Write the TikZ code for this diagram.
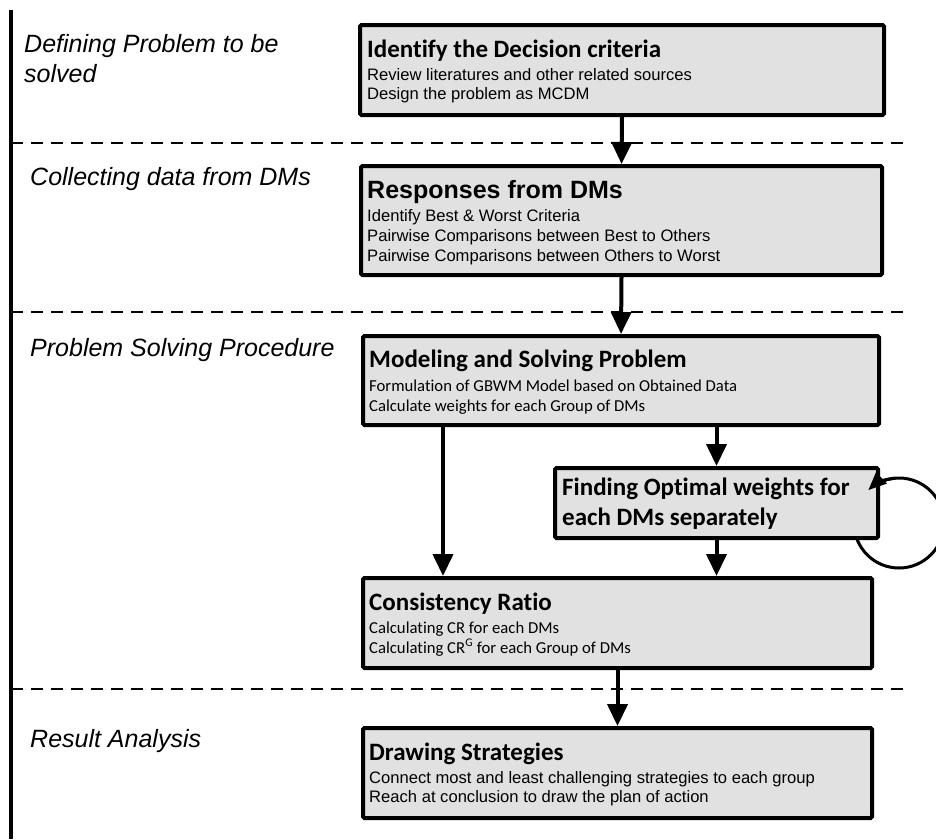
\documentclass[tikz,border=0pt]{standalone}
\usepackage{fontspec}
\setmainfont{Liberation Sans}
\newfontfamily\carlito[Ligatures=CommonOff]{Carlito}
\newfontfamily\arialf{Liberation Sans}
\usetikzlibrary{arrows.meta,backgrounds}
\definecolor{boxgray}{RGB}{225,225,225}
\begin{document}
\begin{tikzpicture}[x=1pt,y=-1pt,
  box/.style={draw=black, line width=4pt, fill=boxgray, rounded corners=1.5pt, inner sep=0pt},
  arr/.style={line width=4pt, -{Triangle[length=22pt,width=20pt]}},
  looparr/.style={line width=3pt},
  looptip/.style={line width=3pt, -{Triangle[length=18pt,width=15pt]}},
  sepline/.style={line width=1.4pt, dash pattern=on 12pt off 8pt},
  lbl/.style={anchor=base west, inner sep=0pt, font=\arialf\itshape\fontsize{25}{25}\selectfont},
  hdc/.style={anchor=base west, inner sep=0pt, font=\carlito\bfseries\fontsize{25}{25}\selectfont},
  hda/.style={anchor=base west, inner sep=0pt, font=\arialf\bfseries\fontsize{25}{25}\selectfont},
  bda/.style={anchor=base west, inner sep=0pt, font=\arialf\fontsize{16.6}{16.6}\selectfont},
  bdc/.style={anchor=base west, inner sep=0pt, font=\carlito\fontsize{16.7}{16.7}\selectfont},
]
\useasboundingbox (0,0) rectangle (936,839);

% left axis and separators
\draw[line width=4pt] (11,10) -- (11,839);
\draw[sepline] (11,143) -- (907,143);
\draw[sepline] (11,312) -- (907,312);
\draw[sepline] (11,689) -- (907,689);

% phase labels
\node[lbl] (p1a) at (24,52) {Defining Problem to be};
\node[lbl] (p1b) at (24,82) {solved};
\node[lbl] (p2) at (30,185) {Collecting data from DMs};
\node[lbl] (p3) at (30,356) {Problem Solving Procedure};
\node[lbl] (p4) at (30,747) {Result Analysis};

% self loop (behind the box)
\coordinate (lc) at (899,523);
\begin{scope}[on background layer]
\draw[looparr] (lc) ++(180:45) arc[start angle=180, end angle=-120, radius=45];
\end{scope}

% boxes
\node[box, minimum width=524pt, minimum height=90pt] (b1) at (622,70) {};
\node[box, minimum width=521pt, minimum height=109pt] (b2) at (621.5,220.5) {};
\node[box, minimum width=516pt, minimum height=89pt] (b3) at (621,380.5) {};
\node[box, minimum width=323pt, minimum height=70pt] (b4) at (716.5,503) {};
\node[box, minimum width=509pt, minimum height=90pt] (b5) at (617.5,623) {};
\node[box, minimum width=509pt, minimum height=90pt] (b6) at (617.5,773) {};

% arrow end of the loop, on top of the box
\draw[looptip] (lc) ++(-95:45) arc[start angle=-95, end angle=-133, radius=45];

% texts
\node[hdc] (t1h) at (367,57) {Identify the Decision criteria};
\node[bda] (t1a) at (367,80) {Review literatures and other related sources};
\node[bda] (t1b) at (367,99) {Design the problem as MCDM};

\node[hda] (t2h) at (367,198) {Responses from DMs};
\node[bda] (t2a) at (367,221) {Identify Best \& Worst Criteria};
\node[bda] (t2b) at (367,241) {Pairwise Comparisons between Best to Others};
\node[bda] (t2c) at (367,261) {Pairwise Comparisons between Others to Worst};

\node[hdc] (t3h) at (369,367) {Modeling and Solving Problem};
\node[bdc] (t3a) at (369,391) {Formulation of GBWM Model based on Obtained Data};
\node[bdc] (t3b) at (369,411) {Calculate weights for each Group of DMs};

\node[hdc] (t4a) at (562,495) {Finding Optimal weights for};
\node[hdc] (t4b) at (562,525) {each DMs separately};

\node[hdc] (t5h) at (369,610) {Consistency Ratio};
\node[bdc] (t5a) at (369,633) {Calculating CR for each DMs};
\node[bdc] (t5b) at (369,653) {Calculating CR\textsuperscript{G} for each Group of DMs};

\node[hdc] (t6h) at (369,760) {Drawing Strategies};
\node[bda] (t6a) at (369,783) {Connect most and least challenging strategies to each group};
\node[bda] (t6b) at (369,802) {Reach at conclusion to draw the plan of action};

% connectors
\coordinate (cl) at (443,0);
\draw[arr] (b1.south) -- (b2.north);
\draw[arr] (b2.south) -- (b3.north);
\draw[arr] (b3.south -| cl) -- (b5.north -| cl);
\draw[arr] (b3.south -| b4.north) -- (b4.north);
\draw[arr] (b4.south) -- (b5.north -| b4.south);
\draw[arr] (b5.south) -- (b6.north);
\end{tikzpicture}
\end{document}
